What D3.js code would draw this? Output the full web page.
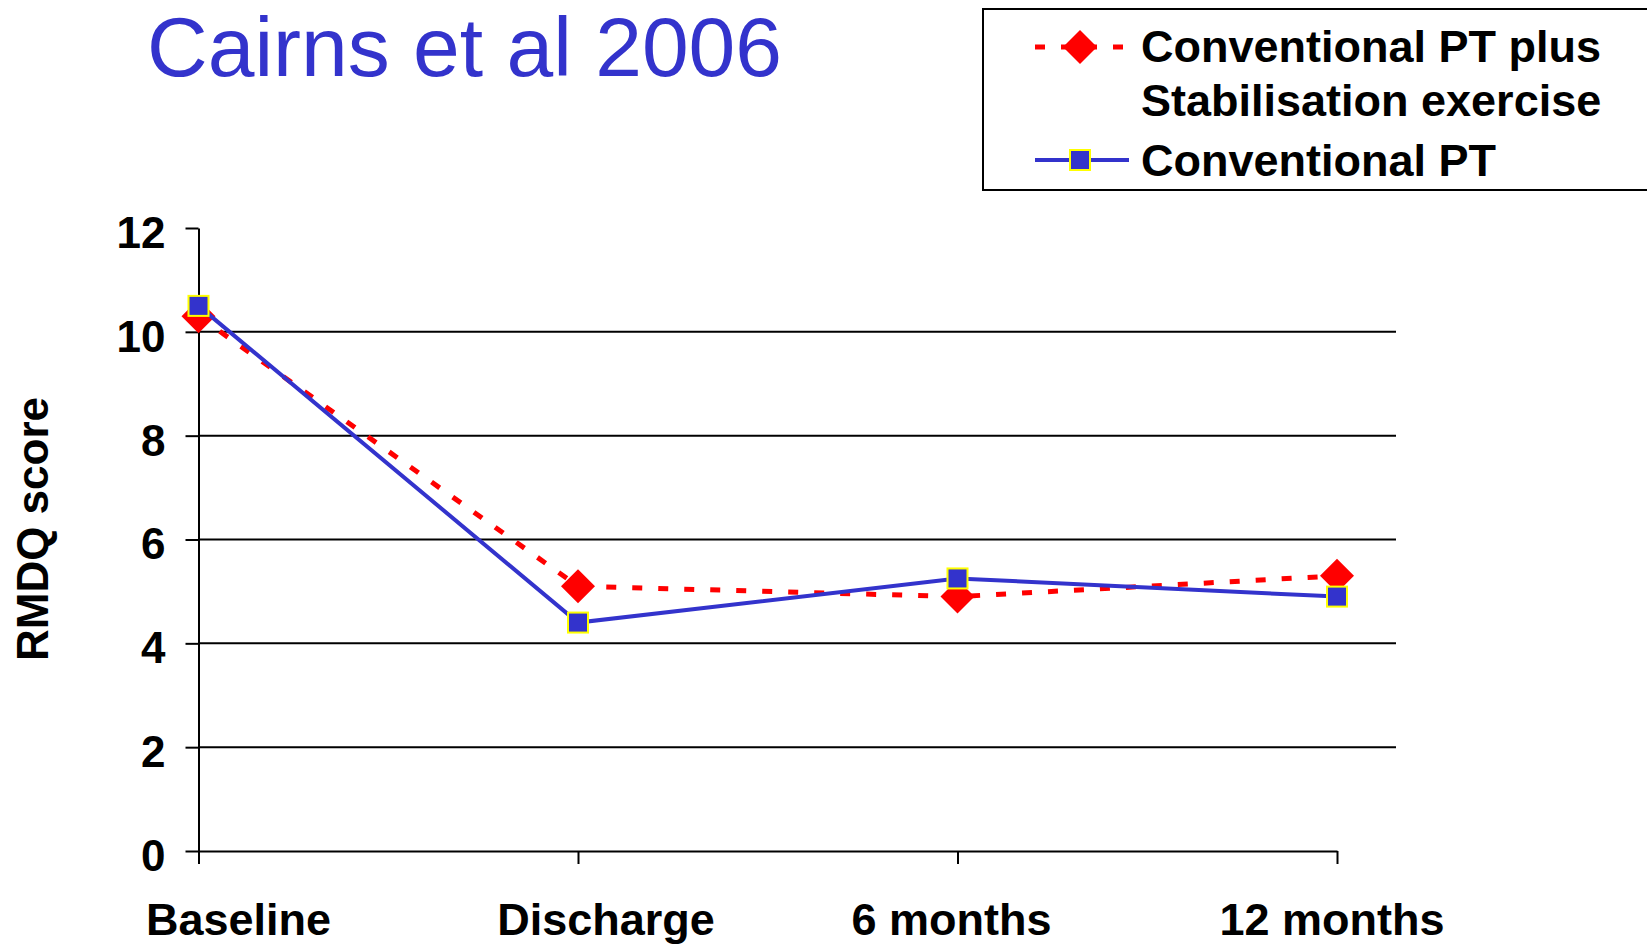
<!DOCTYPE html>
<html>
<head>
<meta charset="utf-8">
<script src="https://cdn.jsdelivr.net/npm/d3@7/dist/d3.min.js"></script>
<style>
  html, body { margin: 0; padding: 0; background: #fff; }
  svg { display: block; }
  text { font-family: "Liberation Sans", Arial, Helvetica, sans-serif; }
</style>
</head>
<body>
<svg id="chart" width="1647" height="945"></svg>
<script>
// ---- data ----
const categories = ["Baseline", "Discharge", "6 months", "12 months"];
const seriesNames = ["Conventional PT plus Stabilisation exercise", "Conventional PT"];
const stabilisationValues = [10.3, 5.1, 4.9, 5.3];
const conventionalValues = [10.5, 4.4, 5.25, 4.9];
const yTicks = [0, 2, 4, 6, 8, 10, 12];
const titleText = "Cairns et al 2006";
const yAxisTitle = "RMDQ score";

// ---- layout ----
const svg = d3.select("#chart");
const BLUE = "#3333CC", RED = "#FF0000", YELLOW = "#FFFF00";

const x = d3.scalePoint().domain(categories).range([198.5, 1337]).padding(0);
const y = d3.scaleLinear().domain([0, 12]).range([851, 228]);
const gridRight = 1396;

// title
svg.append("text")
  .attr("x", 147).attr("y", 76)
  .attr("fill", BLUE)
  .style("font-size", "84px")
  .text(titleText);

// gridlines
svg.append("g").selectAll("line")
  .data(yTicks.filter(v => v > 0 && v < 12))
  .join("line")
  .attr("x1", x(categories[0])).attr("x2", gridRight)
  .attr("y1", d => y(d)).attr("y2", d => y(d))
  .attr("stroke", "#000").attr("stroke-width", 2);

// y axis
const yAxis = svg.append("g")
  .attr("transform", `translate(${x(categories[0])},0)`)
  .call(d3.axisLeft(y).tickValues(yTicks).tickSize(13).tickSizeOuter(0).tickPadding(20));
yAxis.select(".domain").attr("stroke", "#000").attr("stroke-width", 2);
yAxis.selectAll(".tick line").attr("stroke", "#000").attr("stroke-width", 2);
yAxis.selectAll(".tick text")
  .attr("dy", "0.44em")
  .attr("fill", "#000")
  .style("font-size", "44px").style("font-weight", "bold")
  .style("font-family", "'Liberation Sans', Arial, sans-serif");

// x axis
const xAxis = svg.append("g")
  .attr("transform", `translate(0,${y(0)})`)
  .call(d3.axisBottom(x).tickSize(13).tickSizeOuter(0).tickFormat(""));
xAxis.select(".domain").attr("stroke", "#000").attr("stroke-width", 2);
xAxis.selectAll(".tick line").attr("stroke", "#000").attr("stroke-width", 2);

// x labels (slight per-label offsets as in the original slide)
const labelShift = [40, 28, -6, -5];
svg.append("g").selectAll("text")
  .data(categories)
  .join("text")
  .attr("x", (d, i) => x(d) + labelShift[i])
  .attr("y", 935)
  .attr("text-anchor", "middle")
  .style("font-size", "45px").style("font-weight", "bold")
  .text(d => d);

// y axis title
svg.append("text")
  .attr("transform", "translate(48,529) rotate(-90)")
  .attr("text-anchor", "middle")
  .style("font-size", "44px").style("font-weight", "bold")
  .text(yAxisTitle);

const line = d3.line().x((d, i) => x(categories[i])).y(d => y(d));
const diamond = (cx, cy, r) => `M${cx},${cy - r}L${cx + r},${cy}L${cx},${cy + r}L${cx - r},${cy}Z`;

// red dashed series
svg.append("path")
  .datum(stabilisationValues)
  .attr("d", line)
  .attr("fill", "none").attr("stroke", RED)
  .attr("stroke-width", 5).attr("stroke-dasharray", "10,16");
svg.append("g").selectAll("path")
  .data(stabilisationValues)
  .join("path")
  .attr("d", (d, i) => diamond(x(categories[i]), y(d), 17))
  .attr("fill", RED);

// blue solid series
svg.append("path")
  .datum(conventionalValues)
  .attr("d", line)
  .attr("fill", "none").attr("stroke", BLUE)
  .attr("stroke-width", 4);
svg.append("g").selectAll("rect")
  .data(conventionalValues)
  .join("rect")
  .attr("x", (d, i) => x(categories[i]) - 10)
  .attr("y", d => y(d) - 10)
  .attr("width", 20).attr("height", 20)
  .attr("fill", BLUE).attr("stroke", YELLOW).attr("stroke-width", 2);

// legend
const lg = svg.append("g");
lg.append("rect")
  .attr("x", 983).attr("y", 9).attr("width", 720).attr("height", 181)
  .attr("fill", "#fff").attr("stroke", "#000").attr("stroke-width", 2);
// entry 1
lg.append("line")
  .attr("x1", 1035).attr("x2", 1127).attr("y1", 47).attr("y2", 47)
  .attr("stroke", RED).attr("stroke-width", 5).attr("stroke-dasharray", "10,16");
lg.append("path").attr("d", diamond(1080, 47, 17)).attr("fill", RED);
lg.append("text").attr("x", 1141).attr("y", 62)
  .style("font-size", "45px").style("font-weight", "bold").text("Conventional PT plus");
lg.append("text").attr("x", 1141).attr("y", 116)
  .style("font-size", "45px").style("font-weight", "bold").text("Stabilisation exercise");
// entry 2
lg.append("line")
  .attr("x1", 1035).attr("x2", 1129).attr("y1", 160).attr("y2", 160)
  .attr("stroke", BLUE).attr("stroke-width", 4);
lg.append("rect")
  .attr("x", 1070).attr("y", 150).attr("width", 20).attr("height", 20)
  .attr("fill", BLUE).attr("stroke", YELLOW).attr("stroke-width", 2);
lg.append("text").attr("x", 1141).attr("y", 176)
  .style("font-size", "45px").style("font-weight", "bold").text(seriesNames[1]);
</script>
</body>
</html>
